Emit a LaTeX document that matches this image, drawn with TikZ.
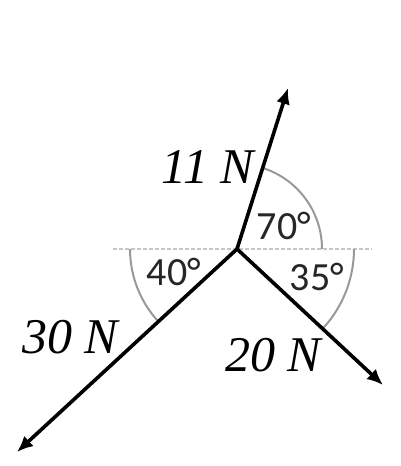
\documentclass[tikz,border=0pt]{standalone}
\usepackage{fontspec}
\newfontfamily\forcefont{Liberation Serif}
\newfontfamily\anglefont{Carlito}
\usetikzlibrary{arrows.meta,calc}

\begin{document}
\begin{tikzpicture}[
  x=0.5pt, y=0.5pt,
  force/.style={
    -{Latex[length=8pt,width=7pt]},
    line width=1.8pt,
    draw=black
  },
  anglearc/.style={draw=gray!80, line width=1pt},
  baseline/.style={draw=gray!45, line width=0.7pt, dash pattern=on 2pt off 1pt},
  forcelabel/.style={font=\forcefont\itshape\fontsize{25}{25}\selectfont, inner sep=0pt},
  anglelabel/.style={font=\anglefont\fontsize{20}{20}\selectfont, text=black!85, inner sep=0pt}
]
  \useasboundingbox (0,0) rectangle (401,466);

  \coordinate (O)     at (237,217);
  \coordinate (left)  at (113,217);
  \coordinate (right) at (372,217);
  \coordinate (tipA)  at (288,378);
  \coordinate (tipB)  at (17,14);
  \coordinate (tipC)  at (383,81);

  \draw[baseline] (left) -- (right);

  \draw[anglearc] ($(O)+(85,0)$) arc[start angle=0, end angle=72.4, radius=85];
  \draw[anglearc] ($(O)+(-107,0)$) arc[start angle=180, end angle=222.7, radius=107];
  \draw[anglearc] ($(O)+(117,0)$) arc[start angle=0, end angle=-43, radius=117];

  \draw[force] (O) -- (tipA);
  \draw[force] (O) -- (tipB);
  \draw[force] (O) -- (tipC);

  \node[forcelabel] (fA) at (208,299) {11 N};
  \node[forcelabel] (fB) at (70,129)  {30 N};
  \node[forcelabel] (fC) at (273,111) {20 N};

  \node[anglelabel] (aA) at (284,240) {70°};
  \node[anglelabel] (aB) at (174,194) {40°};
  \node[anglelabel] (aC) at (317,189) {35°};
\end{tikzpicture}
\end{document}
